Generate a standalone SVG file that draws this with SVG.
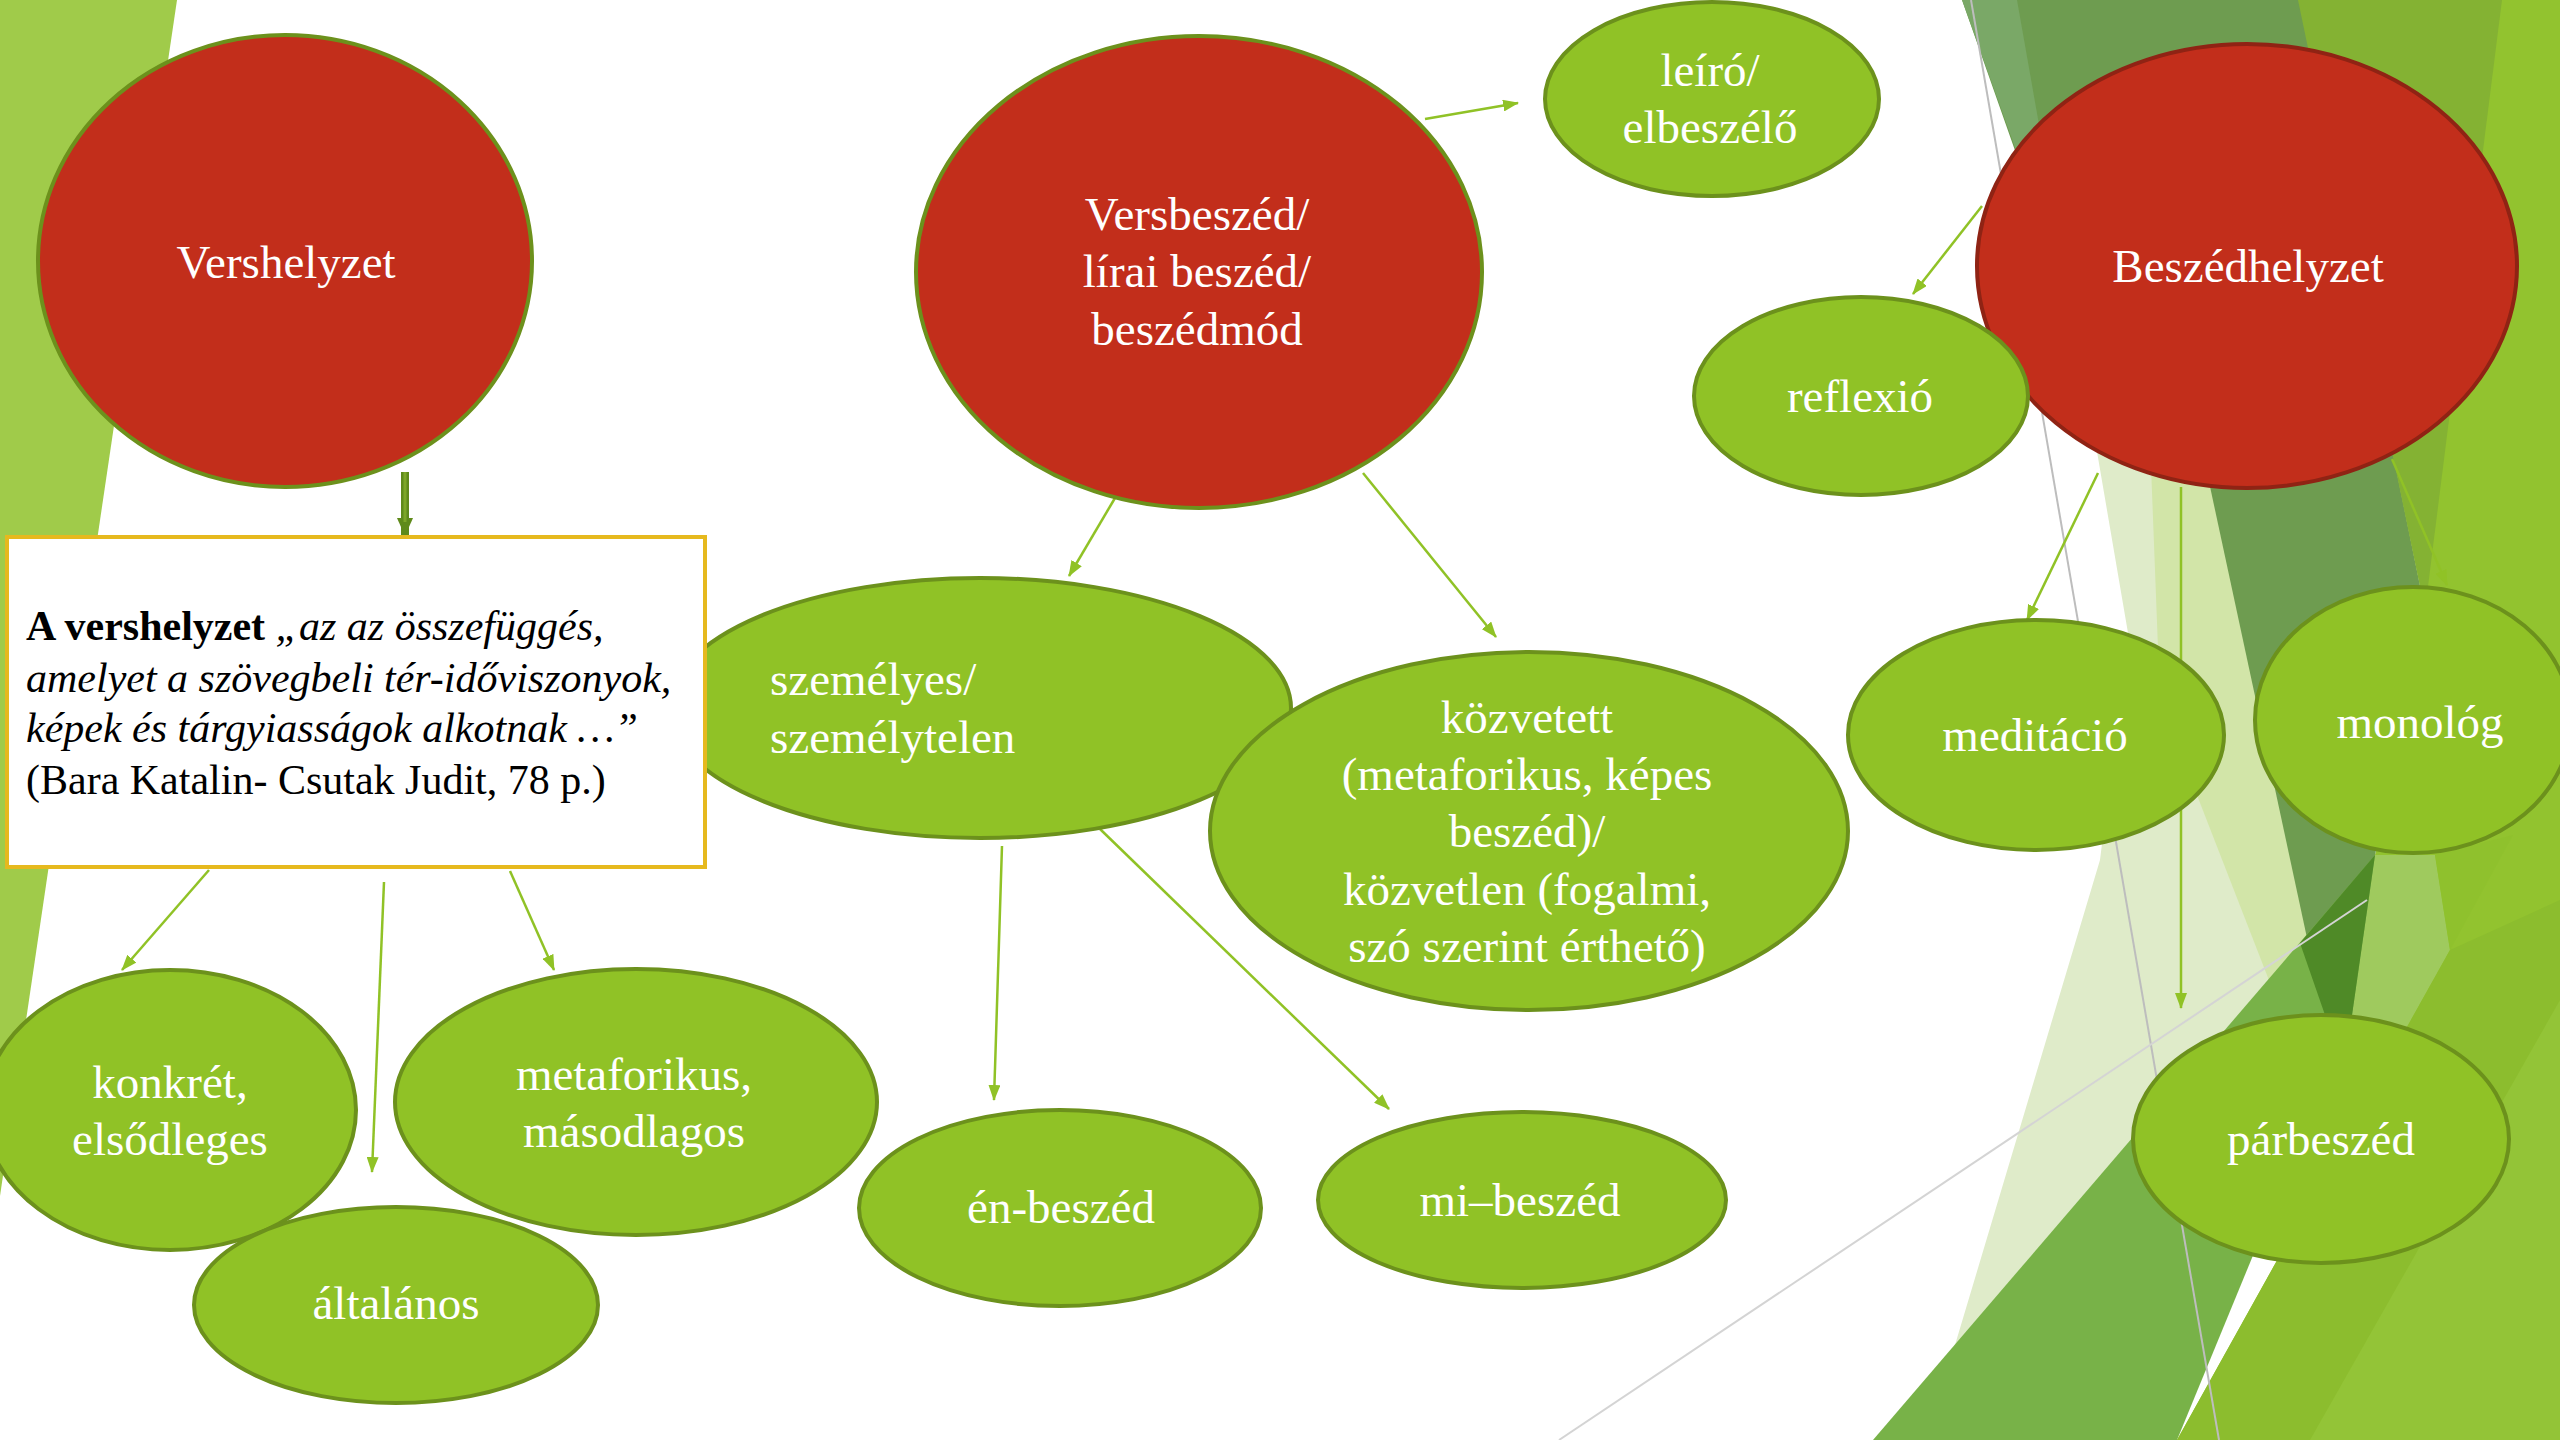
<svg xmlns="http://www.w3.org/2000/svg" width="2560" height="1440" viewBox="0 0 2560 1440">
<defs>
<style>
.rn{fill:#c22e1b;stroke:#6c911c;stroke-width:4}
.gn{fill:#90c226;stroke:#6c911c;stroke-width:4}
.t{font-family:"Liberation Serif","Times New Roman",serif;font-size:47px;fill:#ffffff;text-anchor:middle}
.tl{font-family:"Liberation Serif","Times New Roman",serif;font-size:47px;fill:#ffffff}
.bx{font-family:"Liberation Serif","Times New Roman",serif;font-size:42px;fill:#000000}
.c{stroke:#90c226;stroke-width:2.5;fill:none;marker-end:url(#ah)}
</style>
<marker id="ah" markerUnits="userSpaceOnUse" markerWidth="16" markerHeight="12" refX="15" refY="6" orient="auto">
<path d="M0,0 L16,6 L0,12 Z" fill="#90c226"/>
</marker>
<marker id="ahd" markerUnits="userSpaceOnUse" markerWidth="18" markerHeight="16" refX="17" refY="8" orient="auto">
<path d="M0,0 L18,8 L0,16 Z" fill="#5f8a1a"/>
</marker>
</defs>
<rect width="2560" height="1440" fill="#ffffff"/>
<g id="background">
<polygon points="0,0 177,0 0,1196" fill="#a0cb4a"/>
<polygon points="2298,0 2560,0 2560,1440 2177,1440 2407,1027 2352,1015 2375,855 2425,610" fill="#92c32f"/>
<polygon points="1962,0 2300,0 2425,610 2375,855 2352,1015 2330,1045" fill="#6e9c50"/>
<polygon points="1962,0 2017,0 2070,300" fill="#7aa867"/>
<polygon points="2298,0 2502,0 2425,610" fill="#84b233"/>
<polygon points="2095,440 2150,440 2330,1045 1955,1345 2100,860 2128,633" fill="#dfebc9"/>
<polygon points="2150,440 2200,440 2330,1045 2300,1060 2160,700" fill="#d2e5a8"/>
<polygon points="2375,855 2435,855 2450,950 2407,1027 2352,1015" fill="#9fca5e"/>
<polygon points="2435,855 2513,835 2450,950" fill="#8fc12d"/>
<polygon points="2375,855 1873,1440 2177,1440 2352,1015" fill="#78b248"/>
<polygon points="2300,943 2375,855 2352,1015 2325,1015" fill="#4f8a27"/>
<polygon points="2177,1440 2407,1027 2450,950 2560,900 2560,1440" fill="#8cbd2e"/>
<polygon points="2310,1440 2560,1000 2560,1440" fill="#93c437"/>
<line x1="1971" y1="0" x2="2219" y2="1440" stroke="#bdbdbd" stroke-width="2"/>
<line x1="1559" y1="1440" x2="2367" y2="900" stroke="#d4d4d4" stroke-width="2"/>
</g>
<g id="connectors">
<line x1="405" y1="472" x2="405" y2="535" stroke="#5f8a1a" stroke-width="8" marker-end="url(#ahd)"/>
<line x1="405" y1="472" x2="405" y2="522" stroke="#7da628" stroke-width="3"/>
<line class="c" x1="209" y1="870" x2="122" y2="970"/>
<line class="c" x1="384" y1="882" x2="372" y2="1172"/>
<line class="c" x1="510" y1="871" x2="554" y2="970"/>
<line class="c" x1="1425" y1="119" x2="1518" y2="103"/>
<line class="c" x1="1115" y1="498" x2="1069" y2="576"/>
<line class="c" x1="1363" y1="473" x2="1496" y2="637"/>
<line class="c" x1="1002" y1="846" x2="994" y2="1100"/>
<line class="c" x1="1100" y1="829" x2="1389" y2="1109"/>
<line class="c" x1="1982" y1="206" x2="1913" y2="294"/>
<line class="c" x1="2098" y1="473" x2="2027" y2="620"/>
<line class="c" x1="2181" y1="487" x2="2181" y2="1008"/>
<line class="c" x1="2392" y1="459" x2="2447" y2="585"/>
</g>
<g id="vershelyzet">
<ellipse class="rn" cx="285" cy="261" rx="247" ry="226"/>
<text class="t" x="286" y="278">Vershelyzet</text>
</g>
<g id="versbeszed">
<ellipse class="rn" cx="1199" cy="272" rx="283" ry="236"/>
<text class="t"><tspan x="1197" y="230">Versbeszéd/</tspan><tspan x="1197" y="287">lírai beszéd/</tspan><tspan x="1197" y="345">beszédmód</tspan></text>
</g>
<g id="beszedhelyzet">
<ellipse cx="2247" cy="266" rx="270" ry="222" fill="#c22e1b" stroke="#8f2314" stroke-width="4"/>
<text class="t" x="2248" y="282">Beszédhelyzet</text>
</g>
<g id="leiro">
<ellipse class="gn" cx="1712" cy="99" rx="167" ry="97"/>
<text class="t"><tspan x="1710" y="86">leíró/</tspan><tspan x="1710" y="143">elbeszélő</tspan></text>
</g>
<g id="reflexio">
<ellipse class="gn" cx="1861" cy="396" rx="167" ry="99"/>
<text class="t" x="1860" y="412">reflexió</text>
</g>
<g id="meditacio">
<ellipse class="gn" cx="2036" cy="735" rx="188" ry="115"/>
<text class="t" x="2035" y="751">meditáció</text>
</g>
<g id="monolog">
<ellipse class="gn" cx="2413" cy="720" rx="158" ry="133"/>
<text class="t" x="2420" y="738">monológ</text>
</g>
<g id="parbeszed">
<ellipse class="gn" cx="2321" cy="1139" rx="188" ry="124"/>
<text class="t" x="2321" y="1155">párbeszéd</text>
</g>
<g id="szemelyes">
<ellipse class="gn" cx="980" cy="708" rx="311" ry="130"/>
<text class="tl"><tspan x="770" y="695">személyes/</tspan><tspan x="770" y="753">személytelen</tspan></text>
</g>
<g id="kozvetett">
<ellipse class="gn" cx="1529" cy="831" rx="319" ry="179"/>
<text class="t"><tspan x="1527" y="733">közvetett</tspan><tspan x="1527" y="790">(metaforikus, képes</tspan><tspan x="1527" y="847">beszéd)/</tspan><tspan x="1527" y="905">közvetlen (fogalmi,</tspan><tspan x="1527" y="962">szó szerint érthető)</tspan></text>
</g>
<g id="definicio">
<rect x="7" y="537" width="698" height="330" fill="#ffffff" stroke="#e6b91e" stroke-width="4"/>
<text class="bx"><tspan x="26" y="640" font-weight="bold">A vershelyzet</tspan><tspan font-style="italic"> „az az összefüggés,</tspan><tspan x="26" y="692" font-style="italic">amelyet a szövegbeli tér-időviszonyok,</tspan><tspan x="26" y="742" font-style="italic">képek és tárgyiasságok alkotnak …”</tspan><tspan x="26" y="794">(Bara Katalin- Csutak Judit, 78 p.)</tspan></text>
</g>
<g id="konkret">
<ellipse class="gn" cx="170" cy="1110" rx="186" ry="140"/>
<text class="t"><tspan x="170" y="1098">konkrét,</tspan><tspan x="170" y="1155">elsődleges</tspan></text>
</g>
<g id="metaforikus">
<ellipse class="gn" cx="636" cy="1102" rx="241" ry="133"/>
<text class="t"><tspan x="634" y="1090">metaforikus,</tspan><tspan x="634" y="1147">másodlagos</tspan></text>
</g>
<g id="altalanos">
<ellipse class="gn" cx="396" cy="1305" rx="202" ry="98"/>
<text class="t" x="396" y="1319">általános</text>
</g>
<g id="en-beszed">
<ellipse class="gn" cx="1060" cy="1208" rx="201" ry="98"/>
<text class="t" x="1061" y="1223">én-beszéd</text>
</g>
<g id="mi-beszed">
<ellipse class="gn" cx="1522" cy="1200" rx="204" ry="88"/>
<text class="t" x="1520" y="1216">mi–beszéd</text>
</g>
</svg>
